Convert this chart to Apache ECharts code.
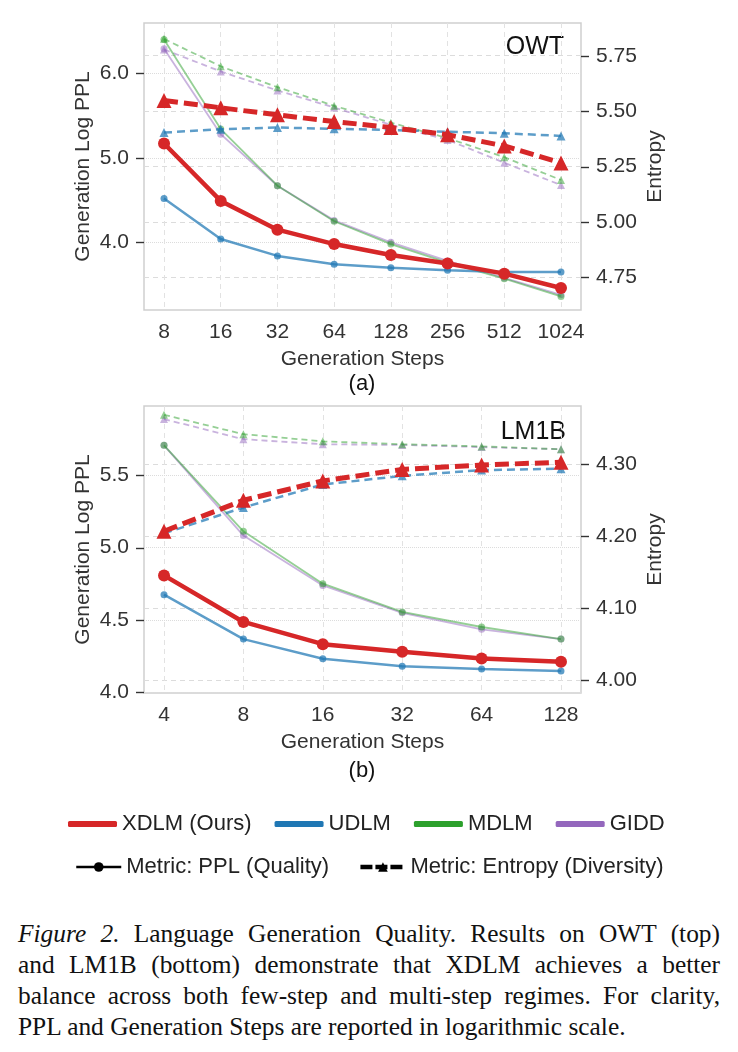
<!DOCTYPE html>
<html>
<head>
<meta charset="utf-8">
<script src="https://cdn.jsdelivr.net/npm/echarts@6/dist/echarts.min.js"></script>
<style>
  body { margin: 0; background: #fff; }
  #chart { position: absolute; left: 0; top: 0; width: 738px; height: 900px; }
  #caption { position: absolute; left: 18px; top: 918px; width: 702px;
    font-family: "Liberation Serif", "Times New Roman", serif; font-size: 25.4px;
    line-height: 31px; color: #111; }
  #caption .j { text-align: justify; text-align-last: justify; }
</style>
</head>
<body>
<div id="chart"></div>
<div id="caption">
  <div class="j"><i>Figure 2.</i> Language Generation Quality. Results on OWT (top)</div>
  <div class="j">and LM1B (bottom) demonstrate that XDLM achieves a better</div>
  <div class="j">balance across both few-step and multi-step regimes. For clarity,</div>
  <div>PPL and Generation Steps are reported in logarithmic scale.</div>
</div>
<script>
// OWT (top panel)
var owtSteps = ['8', '16', '32', '64', '128', '256', '512', '1024'];
var owtPplXdlm = [5.17, 4.49, 4.15, 3.98, 3.85, 3.75, 3.63, 3.46];
var owtPplUdlm = [4.52, 4.04, 3.84, 3.74, 3.70, 3.67, 3.65, 3.65];
var owtPplMdlm = [6.40, 5.34, 4.67, 4.25, 3.98, 3.76, 3.57, 3.36];
var owtPplGidd = [6.29, 5.28, 4.67, 4.26, 4.00, 3.78, 3.58, 3.38];
var owtEntXdlm = [5.548, 5.515, 5.483, 5.453, 5.426, 5.393, 5.343, 5.266];
var owtEntUdlm = [5.403, 5.418, 5.426, 5.420, 5.415, 5.407, 5.400, 5.388];
var owtEntMdlm = [5.826, 5.702, 5.608, 5.524, 5.448, 5.378, 5.292, 5.189];
var owtEntGidd = [5.778, 5.679, 5.593, 5.516, 5.438, 5.370, 5.267, 5.166];

// LM1B (bottom panel)
var lmSteps = ['4', '8', '16', '32', '64', '128'];
var lmPplXdlm = [4.807, 4.485, 4.331, 4.278, 4.232, 4.209];
var lmPplUdlm = [4.674, 4.366, 4.230, 4.179, 4.159, 4.145];
var lmPplMdlm = [5.708, 5.112, 4.750, 4.554, 4.450, 4.366];
var lmPplGidd = [5.708, 5.083, 4.738, 4.548, 4.434, 4.366];
var lmEntXdlm = [4.207, 4.250, 4.277, 4.293, 4.299, 4.303];
var lmEntUdlm = [4.204, 4.240, 4.272, 4.284, 4.292, 4.294];
var lmEntMdlm = [4.369, 4.342, 4.332, 4.328, 4.325, 4.321];
var lmEntGidd = [4.363, 4.335, 4.328, 4.327, 4.324, 4.321];

// axis ticks
var owtPplTicks = [4, 5, 6];
var owtEntTicks = [4.75, 5.0, 5.25, 5.5, 5.75];
var lmPplTicks = [4.0, 4.5, 5.0, 5.5];
var lmEntTicks = [4.0, 4.1, 4.2, 4.3];

var models = ['XDLM (Ours)', 'UDLM', 'MDLM', 'GIDD'];
var look = {
  'XDLM (Ours)': { color: '#d62728', op: 1,    w: 4.5, sym: 12, ew: 5,   esym: 15, dash: [14, 6], z: 10 },
  'UDLM':        { color: '#1f77b4', op: 0.72, w: 2.5, sym: 7,  ew: 2.5, esym: 9,  dash: [8, 5],  z: 8 },
  'MDLM':        { color: '#2ca02c', op: 0.5,  w: 1.8, sym: 7,  ew: 1.8, esym: 8,  dash: [6, 4],  z: 6 },
  'GIDD':        { color: '#9467bd', op: 0.5,  w: 1.8, sym: 7,  ew: 1.8, esym: 8,  dash: [6, 4],  z: 5 }
};

function pairs(arr) {
  return arr.map(function (v, i) { return [i, v]; });
}

function pplSeries(name, arr, g) {
  var s = look[name];
  return {
    name: name, type: 'line', xAxisIndex: g, yAxisIndex: g * 2,
    data: pairs(arr), symbol: 'circle', symbolSize: s.sym, z: s.z + 1,
    lineStyle: { color: s.color, width: s.w, opacity: s.op },
    itemStyle: { color: s.color, opacity: s.op },
    emphasis: { disabled: true }
  };
}
function entSeries(name, arr, g) {
  var s = look[name];
  return {
    name: name, type: 'line', xAxisIndex: g, yAxisIndex: g * 2 + 1,
    data: pairs(arr), symbol: 'triangle', symbolSize: s.esym, z: s.z,
    lineStyle: { color: s.color, width: s.ew, opacity: s.op, type: s.dash },
    itemStyle: { color: s.color, opacity: s.op },
    emphasis: { disabled: true }
  };
}

var txt = '#333';
var font = 'Liberation Sans';
var gridLeft = 144, gridWidth = 437, gridHeight = 287, gridTops = [23, 406];

// x axis: 20px of padding on each side of the first/last step
function xAxis(g, steps) {
  var idx = steps.map(function (v, i) { return i; });
  var pad = g === 0 ? 0.353 : 0.252;
  return {
    type: 'value', gridIndex: g, min: -pad, max: steps.length - 1 + pad,
    name: 'Generation Steps', nameLocation: 'middle', nameGap: 39,
    nameTextStyle: { fontSize: 21, color: txt, fontFamily: font },
    axisLine: { show: false, onZero: false },
    axisTick: { show: false, customValues: idx },
    axisLabel: { customValues: idx, fontSize: 21, color: txt, fontFamily: font, margin: 12,
      formatter: function (v) { return steps[Math.round(v)]; } },
    splitLine: { show: true, lineStyle: { color: '#e2e2e2', type: [5, 4], width: 1 } }
  };
}

function yAxis(g, side, min, max, ticks, digits, name, gap, splitType) {
  return {
    type: 'value', gridIndex: g, position: side, min: min, max: max,
    name: name, nameLocation: 'middle', nameGap: gap, nameMoveOverlap: false,
    nameTextStyle: { fontSize: 21, color: txt, fontFamily: font },
    axisLine: { show: false, onZero: false },
    axisTick: { show: false, customValues: ticks },
    axisLabel: { customValues: ticks, fontSize: 21, color: txt, fontFamily: font, margin: 15,
      formatter: function (v) { return v.toFixed(digits); } },
    splitLine: { show: true, lineStyle: { color: '#dcdcdc', type: splitType, width: 1 } }
  };
}

var yRanges = [[3.2, 6.595], [4.6024, 5.8976], [3.993, 5.98], [3.9819, 4.3812]];

var series = [];
[['GIDD', owtPplGidd, owtEntGidd, lmPplGidd, lmEntGidd],
 ['MDLM', owtPplMdlm, owtEntMdlm, lmPplMdlm, lmEntMdlm],
 ['UDLM', owtPplUdlm, owtEntUdlm, lmPplUdlm, lmEntUdlm],
 ['XDLM (Ours)', owtPplXdlm, owtEntXdlm, lmPplXdlm, lmEntXdlm]].forEach(function (r) {
  series.push(entSeries(r[0], r[2], 0));
  series.push(pplSeries(r[0], r[1], 0));
  series.push(entSeries(r[0], r[4], 1));
  series.push(pplSeries(r[0], r[3], 1));
});
// legend-only entries for the metric styles
series.push({ name: 'Metric: PPL (Quality)', type: 'line', data: [], symbol: 'circle',
  itemStyle: { color: '#000' }, lineStyle: { color: '#000', width: 2.5 } });
series.push({ name: 'Metric: Entropy (Diversity)', type: 'line', data: [], symbol: 'triangle',
  itemStyle: { color: '#000' }, lineStyle: { color: '#000', width: 4.5, type: [12, 3] } });

var labels = [
  { type: 'text', x: 564, y: 47, style: { text: 'OWT', font: '25px "Liberation Sans"', fill: '#111', align: 'right', verticalAlign: 'middle' } },
  { type: 'text', x: 566, y: 432, style: { text: 'LM1B', font: '25px "Liberation Sans"', fill: '#111', align: 'right', verticalAlign: 'middle' } },
  { type: 'text', x: 362, y: 384, style: { text: '(a)', font: '22px "Liberation Sans"', fill: '#111', align: 'center', verticalAlign: 'middle' } },
  { type: 'text', x: 362, y: 771, style: { text: '(b)', font: '22px "Liberation Sans"', fill: '#111', align: 'center', verticalAlign: 'middle' } }
];

// outward tick marks on the y axes, placed on each axis' linear range
var tickMarks = [];
[[0, owtPplTicks, -1], [1, owtEntTicks, 1], [2, lmPplTicks, -1], [3, lmEntTicks, 1]].forEach(function (t) {
  var r = yRanges[t[0]];
  var top = gridTops[Math.floor(t[0] / 2)];
  var x0 = t[2] < 0 ? gridLeft : gridLeft + gridWidth;
  t[1].forEach(function (v) {
    var y = Math.round(top + gridHeight * (r[1] - v) / (r[1] - r[0])) + 0.5;
    tickMarks.push({ type: 'line', z: 100, shape: { x1: x0, y1: y, x2: x0 + t[2] * 8, y2: y },
      style: { stroke: txt, lineWidth: 1.4 }, silent: true });
  });
});

var option = {
  backgroundColor: '#fff',
  animation: false,
  grid: [
    { left: gridLeft, top: gridTops[0], width: gridWidth, height: gridHeight, show: true, borderColor: '#cfcfcf', borderWidth: 1.5 },
    { left: gridLeft, top: gridTops[1], width: gridWidth, height: gridHeight, show: true, borderColor: '#cfcfcf', borderWidth: 1.5 }
  ],
  xAxis: [xAxis(0, owtSteps), xAxis(1, lmSteps)],
  yAxis: [
    yAxis(0, 'left', yRanges[0][0], yRanges[0][1], owtPplTicks, 1, 'Generation Log PPL', 50, 'dotted'),
    yAxis(0, 'right', yRanges[1][0], yRanges[1][1], owtEntTicks, 2, 'Entropy', 64, [5, 4]),
    yAxis(1, 'left', yRanges[2][0], yRanges[2][1], lmPplTicks, 1, 'Generation Log PPL', 50, 'dotted'),
    yAxis(1, 'right', yRanges[3][0], yRanges[3][1], lmEntTicks, 2, 'Entropy', 64, [5, 4])
  ],
  legend: [
    { left: 68, top: 813, padding: 0, itemWidth: 49, itemHeight: 6, itemGap: 23, selectedMode: false,
      textStyle: { fontSize: 22, color: '#222', fontFamily: font },
      data: models.map(function (m) {
        return { name: m, icon: 'roundRect', itemStyle: { color: look[m].color, opacity: 1 } };
      }) },
    { left: 75, top: 856, padding: 0, itemWidth: 45, itemHeight: 12, itemGap: 29, selectedMode: false,
      textStyle: { fontSize: 22, color: '#222', fontFamily: font },
      data: [
        { name: 'Metric: PPL (Quality)', lineStyle: { width: 2.5 } },
        { name: 'Metric: Entropy (Diversity)', lineStyle: { width: 4.5, type: [12, 3] } }
      ] }
  ],
  graphic: { elements: labels.concat(tickMarks) },
  series: series
};

var myChart = echarts.init(document.getElementById('chart'));
myChart.setOption(option);
</script>
</body>
</html>
